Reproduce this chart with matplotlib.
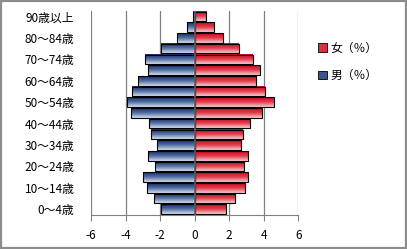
import numpy as np
import matplotlib
matplotlib.use("Agg")
import matplotlib.pyplot as plt
from matplotlib.colors import LinearSegmentedColormap
from matplotlib.patches import Rectangle

plt.rcParams['font.family'] = ['Noto Sans CJK JP', 'DejaVu Sans']

# 年齢階級 (下から)
ages = ["0～4歳", "5～9歳", "10～14歳", "15～19歳", "20～24歳", "25～29歳",
        "30～34歳", "35～39歳", "40～44歳", "45～49歳", "50～54歳", "55～59歳",
        "60～64歳", "65～69歳", "70～74歳", "75～79歳", "80～84歳", "85～89歳",
        "90歳以上"]
female = [1.79, 2.31, 2.89, 3.06, 2.83, 3.06, 2.66, 2.77, 3.18, 3.87,
          4.57, 4.05, 3.53, 3.76, 3.35, 2.54, 1.62, 1.10, 0.66]
male = [1.97, 2.35, 2.75, 2.98, 2.27, 2.69, 2.17, 2.52, 2.64, 3.68,
        3.91, 3.60, 3.27, 2.69, 2.87, 1.94, 1.02, 0.44, 0.12]
xticks = [-6, -4, -2, 0, 2, 4, 6]

fig = plt.figure(figsize=(4.07, 2.49), dpi=100)
ax = fig.add_axes([0.2236, 0.138, 0.5095, 0.817])

y = np.arange(len(ages))
red_cm = LinearSegmentedColormap.from_list("r", ["#c8081a", "#e04050", "#f5cdd1"])
blue_cm = LinearSegmentedColormap.from_list("b", ["#152c64", "#5570a4", "#d6deee"])
grad = np.linspace(0, 1, 64).reshape(-1, 1)

bars_f = ax.barh(y, female, height=0.9, facecolor="none", edgecolor="black", lw=0.8, zorder=3)
bars_m = ax.barh(y, -np.array(male), height=0.9, facecolor="none", edgecolor="black", lw=0.8, zorder=3)

# グラデーション塗り
for bars, cm in [(bars_f, red_cm), (bars_m, blue_cm)]:
    for b in bars:
        x0, y0 = b.get_x(), b.get_y()
        w, h = b.get_width(), b.get_height()
        ax.imshow(grad, cmap=cm, aspect="auto", origin="upper",
                  extent=(x0, x0 + w, y0, y0 + h), zorder=2)

ax.set_xlim(-6, 6)
ax.set_ylim(-0.5, len(ages) - 0.5)
ax.set_xticks(xticks)
ax.set_xticklabels([str(t) for t in xticks], fontsize=8.5)
ax.set_yticks(y[::2])
ax.set_yticklabels(ages[::2], fontsize=8.5)
ax.tick_params(axis="y", length=0, pad=12)
ax.tick_params(axis="x", length=4, color="#808080", pad=6)

for s in ["top", "right", "left"]:
    ax.spines[s].set_visible(False)
ax.spines["bottom"].set_color("#808080")
ax.grid(axis="x", color="#808080", lw=0.9, zorder=0)
ax.axvline(0, color="#606060", lw=1.2, zorder=4)

# 凡例
ax.bar([0], [0], color="#d9303f", edgecolor="black", lw=0.6, label="女（％）")
ax.bar([0], [0], color="#3a5590", edgecolor="black", lw=0.6, label="男（％）")
fig.legend(loc="upper left", bbox_to_anchor=(0.756, 0.875), frameon=False,
           fontsize=8.5, handlelength=0.7, handleheight=0.7, handletextpad=0.3,
           labelspacing=1.2)

fig.patches.append(Rectangle((0.002, 0.004), 0.995, 0.992, transform=fig.transFigure,
                             fill=False, edgecolor="#8c8c8c", lw=1.6))

fig.savefig("out.png", dpi=100)
